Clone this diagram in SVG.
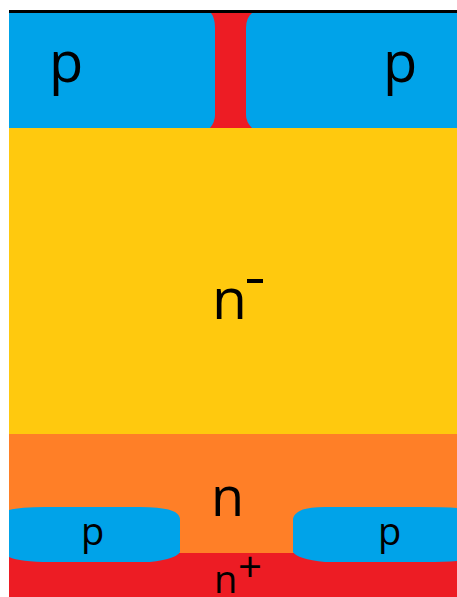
<svg xmlns="http://www.w3.org/2000/svg" width="457" height="597" viewBox="0 0 457 597">
<style>
text{font-family:"Open Sans","Liberation Sans",sans-serif;fill:#000}
.p{fill:#00a3e9}
</style>
<rect width="457" height="597" fill="#fff"/>
<g id="n-minus"><rect x="9" y="128" width="448" height="306" fill="#ffc90e"/><text x="212" y="319" font-size="57">n</text><rect x="247" y="279" width="16" height="4"/></g>
<g id="n-layer"><rect x="9" y="434" width="448" height="120" fill="#ff7f27"/><text x="211" y="516" font-size="54">n</text></g>
<g id="n-plus"><rect x="9" y="553" width="448" height="44" fill="#ed1c24"/><text x="214" y="593" font-size="38">n</text><text x="238" y="582" font-size="42">+</text></g>
<g id="channel"><rect x="209" y="13" width="43" height="115" fill="#ed1c24"/></g>
<g id="p-top-left"><path class="p" d="M9 13H211Q215 18 215 28V115Q215 122 210 128H9Z"/><text x="49" y="82" font-size="56">p</text></g>
<g id="p-top-right"><path class="p" d="M457 13H252Q246 18 246 28V115Q246 122 252 128H457Z"/><text x="383" y="82" font-size="56">p</text></g>
<g id="p-bottom-left"><path class="p" d="M9 510Q20 507 45 507H140Q165 507 175 512Q180 515 180 520V552Q176 559 150 562H50Q20 562 9 557Z"/><text x="81" y="545" font-size="38">p</text></g>
<g id="p-bottom-right"><path class="p" d="M457 508Q445 507 420 507H325Q305 507 298 512Q293 515 293 520V552Q297 559 325 562H425Q445 562 457 561Z"/><text x="378" y="545" font-size="38">p</text></g>
<g id="connectors"><rect x="9" y="10" width="448" height="3" fill="#000"/></g>
</svg>
